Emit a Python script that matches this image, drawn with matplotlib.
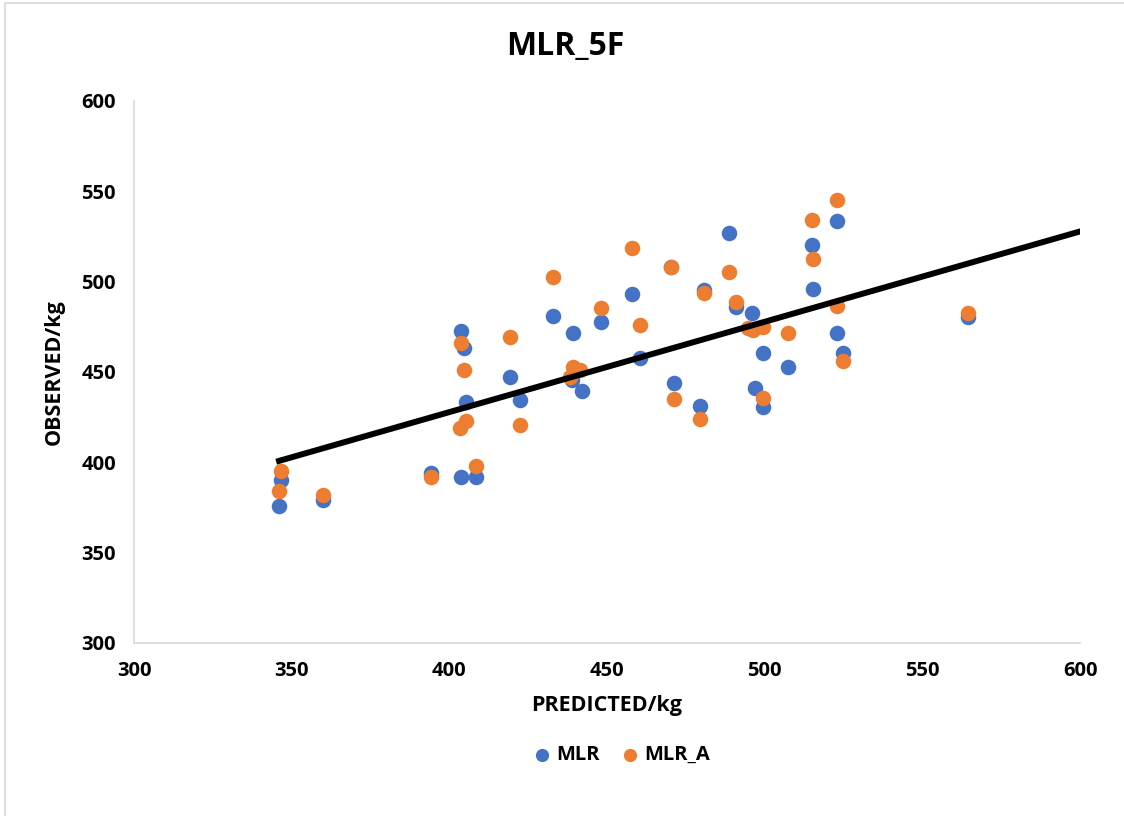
import numpy as np
import matplotlib
matplotlib.use("Agg")
import matplotlib.pyplot as plt
from matplotlib.patches import Rectangle

plt.rcParams['font.family'] = ['Open Sans', 'DejaVu Sans']

mlr_pred = [346.0, 346.6, 359.9, 394.2, 403.7, 408.5, 403.7, 404.7, 405.3, 419.2,
            422.4, 432.9, 439.2, 438.9, 442.1, 448.1, 457.9, 460.5, 470.3, 471.2,
            479.5, 480.8, 488.7, 490.9, 496.0, 499.5, 496.9, 499.5, 507.4, 515.0,
            515.3, 522.9, 522.9, 524.8, 564.5]
mlr_obs = [375.8, 390.2, 379.2, 394.1, 391.9, 391.9, 472.7, 463.3, 433.4, 447.2,
           434.5, 481.0, 471.6, 445.6, 439.5, 477.7, 493.2, 457.8, 508.1, 443.9,
           431.2, 495.4, 526.9, 486.0, 482.7, 460.5, 441.1, 430.6, 452.8, 520.3,
           495.9, 533.6, 471.6, 460.5, 480.4]

mlra_pred = [346.0, 346.6, 359.9, 394.2, 408.5, 403.7, 404.7, 419.2, 405.3, 403.4,
             422.4, 432.9, 439.2, 441.4, 438.3, 448.1, 457.9, 460.5, 470.3, 471.2,
             479.5, 480.8, 488.7, 490.9, 496.3, 499.5, 507.4, 499.5, 515.0, 515.3,
             522.9, 522.9, 524.8, 564.5, 494.7]
mlra_obs = [384.1, 395.2, 381.9, 391.9, 398.0, 466.1, 451.1, 469.4, 422.9, 419.0,
            420.7, 502.6, 452.8, 451.1, 447.2, 485.4, 518.6, 476.0, 508.1, 435.1,
            424.0, 493.7, 505.4, 488.7, 473.2, 474.9, 471.6, 435.6, 534.1, 512.5,
            545.2, 486.5, 456.1, 482.7, 474.4]

# trendline (forecast forward to 600)
trend_slope = 0.50
trend_intercept = 227.8

xmin, xmax = 300, 600
ymin, ymax = 300, 600
ticks = [300, 350, 400, 450, 500, 550, 600]

fig = plt.figure(figsize=(11.24, 8.16), dpi=100)
fig.patches.append(Rectangle((5 / 1124, -0.01), 1.02, 1.0 - 3 / 816 + 0.01,
                             transform=fig.transFigure, fill=False,
                             edgecolor='#d9d9d9', linewidth=1.2))
ax = fig.add_axes([134 / 1124, 1 - 643 / 816, (1080 - 134) / 1124, (643 - 101) / 816])

ax.scatter(mlr_pred, mlr_obs, s=125, color='#4472C4', linewidths=0, label='MLR', zorder=3)
ax.scatter(mlra_pred, mlra_obs, s=125, color='#ED7D31', linewidths=0, label='MLR_A', zorder=3)

tx = np.array([min(mlr_pred), xmax])
ax.plot(tx, trend_slope * tx + trend_intercept, color='black', linewidth=4.3, zorder=4)

ax.set_xlim(xmin, xmax)
ax.set_ylim(ymin, ymax)
ax.set_xticks(ticks)
ax.set_yticks(ticks)
ax.tick_params(length=0, labelsize=14.5, pad=13)
for lab in ax.get_xticklabels() + ax.get_yticklabels():
    lab.set_fontweight('bold')
for s in ['top', 'right']:
    ax.spines[s].set_visible(False)
for s in ['left', 'bottom']:
    ax.spines[s].set_color('#d9d9d9')
    ax.spines[s].set_linewidth(1.2)

ax.set_xlabel('PREDICTED/kg', fontsize=15.5, fontweight='bold', labelpad=10)
ax.set_ylabel('OBSERVED/kg', fontsize=15.5, fontweight='bold', labelpad=12)
fig.text(0.503, 1 - 47 / 816, 'MLR_5F', fontsize=23, fontweight='bold', ha='center', va='center')

fig.legend(loc='center', bbox_to_anchor=(0.548, 1 - 755 / 816), ncol=2, frameon=False,
           prop={'size': 14.5, 'weight': 'bold'}, handletextpad=-0.3, columnspacing=0.5,
           markerscale=0.85)

plt.savefig('out.png', dpi=100)
